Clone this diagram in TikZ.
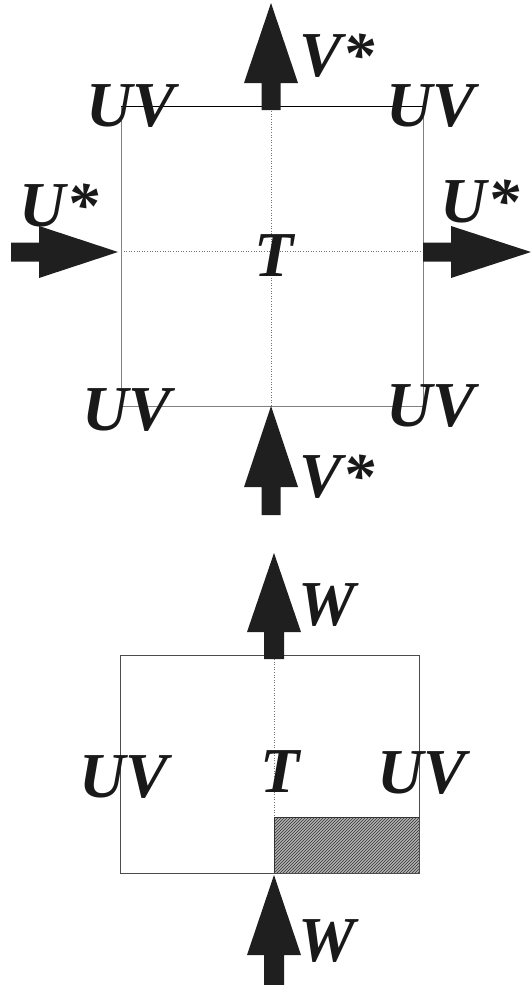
\documentclass[tikz,border=0pt]{standalone}
\usepackage{fontspec}
\setmainfont{Liberation Serif}
\usetikzlibrary{patterns}
\tikzset{
  lbl/.style={inner sep=0pt, anchor=base, font=\fontsize{64}{64}\selectfont\bfseries\itshape, text=black!90},
  blk/.style={fill=black!88, draw=none},
  frame/.style={draw=black!50, line width=0.8pt},
  dot/.style={draw=black!55, line width=0.6pt, dotted},
}
% block arrow pointing up: tip (x,tipy), head base y hb, shaft end y se, head half width hw, shaft half width sw
\newcommand{\uparr}[6]{\fill[blk] (#1-#6,#4) -- (#1-#6,#3) -- (#1-#5,#3) -- (#1,#2) -- (#1+#5,#3) -- (#1+#6,#3) -- (#1+#6,#4) -- cycle;}
\newcommand{\rightarr}[6]{\fill[blk] (#4,#1-#6) -- (#3,#1-#6) -- (#3,#1-#5) -- (#2,#1) -- (#3,#1+#5) -- (#3,#1+#6) -- (#4,#1+#6) -- cycle;}
\begin{document}
\begin{tikzpicture}[x=1pt,y=-1pt]
\useasboundingbox (0,0) rectangle (530,985);
% ---------- top diagram ----------
\draw[dot] (271,106) -- (271,406);
\draw[dot] (121,251) -- (423,251);
\draw[frame] (121,106) -- (121,406) -- (423,406) -- (423,106);
\draw[black, line width=0.9pt] (121,106) -- (423,106);
% arrows
\uparr{271}{3}{83}{110}{27}{9.5}
\uparr{271}{406}{487}{515}{27}{9.5}
\rightarr{252}{118}{39}{11}{26}{9.5}
\rightarr{252}{531}{451}{423}{26}{9.5}
% labels
\node[lbl] (uvtl) at (131,126) {UV};
\node[lbl] (uvtr) at (431,126) {UV};
\node[lbl] (uvbl) at (127,430) {UV};
\node[lbl] (uvbr) at (431,426) {UV};
\node[lbl] (vtop) at (337,76) {V*};
\node[lbl] (vbot) at (337,497) {V*};
\node[lbl] (ul) at (59,226) {U*};
\node[lbl] (ur) at (480,222) {U*};
\node[lbl] (t1) at (274,276) {T};
% ---------- bottom diagram ----------
\fill[gray!60] (274,817) rectangle (419,873);
\fill[pattern=north east lines, pattern color=black!80] (274,817) rectangle (419,873);
\draw[black!80, line width=0.8pt] (274,817) rectangle (419,873);
\draw[dot] (274,659) -- (274,817);
\draw[black!70, line width=0.7pt] (120,655) rectangle (419,873);
\uparr{274}{553}{632}{659}{27}{10}
\uparr{274}{875}{955}{985}{27}{10}
\node[lbl] (w1) at (327,625) {W};
\node[lbl] (w2) at (327,961) {W};
\node[lbl] (t2) at (280,792) {T};
\node[lbl] (uvl) at (124,797) {UV};
\node[lbl] (uvr) at (422,793) {UV};
\end{tikzpicture}
\end{document}
